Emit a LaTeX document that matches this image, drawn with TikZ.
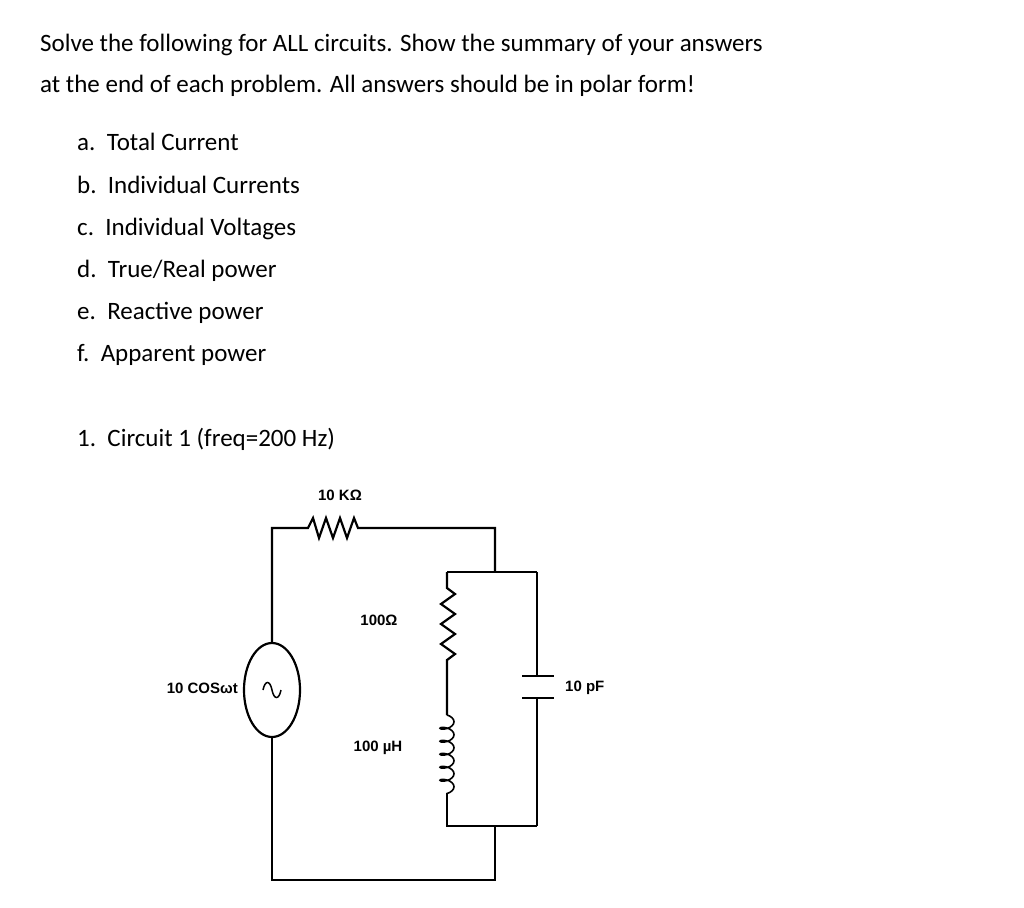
\documentclass[tikz,border=0pt]{standalone}
\usepackage{fontspec}
\setmainfont{Carlito}
\newfontfamily\cfont{Liberation Sans}
\usetikzlibrary{decorations.pathmorphing,shapes.geometric}
\begin{document}
\begin{tikzpicture}[x=1pt,y=-1pt,
  wire/.style={line width=2.2pt,line join=miter},
  txt/.style={anchor=base west,inner sep=0pt,font=\fontsize{25}{30}\selectfont},
  lbl/.style={inner sep=0pt,font=\cfont\fontsize{15}{18}\selectfont\bfseries}]
\useasboundingbox[fill=white] (0,0) rectangle (1024,907);
\node[txt] (t1) at (40,52) {Solve the following for ALL circuits. Show the summary of your answers};
\node[txt] (t2) at (40,92) {at the end of each problem. All answers should be in polar form!};
\node[txt] (a) at (77,150) {a.\ \ Total Current};
\node[txt] (b) at (77,193) {b.\ \ Individual Currents};
\node[txt] (c) at (77,235) {c.\ \ Individual Voltages};
\node[txt] (d) at (77,277) {d.\ \ True/Real power};
\node[txt] (e) at (77,319) {e.\ \ Reactive power};
\node[txt] (f) at (77,361) {f.\ \ Apparent power};
\node[txt] (q) at (77,446) {1.\ \ Circuit 1 (freq=200 Hz)};
% source
\node[draw,ellipse,line width=2.2pt,minimum width=56pt,minimum height=94pt,inner sep=0pt] (src) at (272,690) {};
\draw[line width=1.5pt] (263,690) .. controls (265,680) and (270,680) .. (272,690) .. controls (274,700) and (279,700) .. (281,690);
\coordinate (tl) at (272,528);
\coordinate (r1a) at (308,528);
\coordinate (r1b) at (365,528);
\coordinate (tr) at (495,528);
\coordinate (pj) at (495,572);
\coordinate (pl) at (447,572);
\coordinate (pr) at (537,572);
\coordinate (bl) at (447,826);
\coordinate (br) at (537,826);
\coordinate (bj) at (495,826);
\coordinate (bot) at (495,880);
\coordinate (botl) at (272,880);
\draw[wire] (src.north) -- (tl) -- (r1a)
  -- ++(5,-10) -- ++(6,20) -- ++(7,-20) -- ++(7,20) -- ++(7,-20) -- ++(7,20) -- ++(7,-20) -- ++(4,10)
  -- (r1b) -- (tr) -- (pj);
\draw[wire] (pl) -- (pr);
\draw[wire] (pl) -- (447,588) -- ++(8,6) -- ++(-14,10) -- ++(14,10) -- ++(-14,10) -- ++(14,10) -- ++(-14,10) -- ++(14,10) -- ++(-8,6) -- (447,715);
\draw[line width=1.6pt,decorate,decoration={coil,segment length=13pt,amplitude=7pt,aspect=0.5}] (447,715) -- (447,805);
\draw[wire] (447,805) -- (bl) -- (br);
\draw[wire] (pr) -- (537,676);
\draw[wire] (522,676) -- (554,676);
\draw[wire] (522,698) -- (554,698);
\draw[wire] (537,698) -- (br);
\draw[wire] (bj) -- (bot) -- (botl) -- (src.south);
\node[lbl] (l1) at (340,495) {10 KΩ};
\node[lbl] (l2) at (379,620) {100Ω};
\node[lbl,anchor=east] (l3) at (238,688) {10 COSωt};
\node[lbl,anchor=west] (l4) at (565,688) {10 pF};
\node[lbl] (l5) at (378,748) {100 µH};
\end{tikzpicture}
\end{document}
